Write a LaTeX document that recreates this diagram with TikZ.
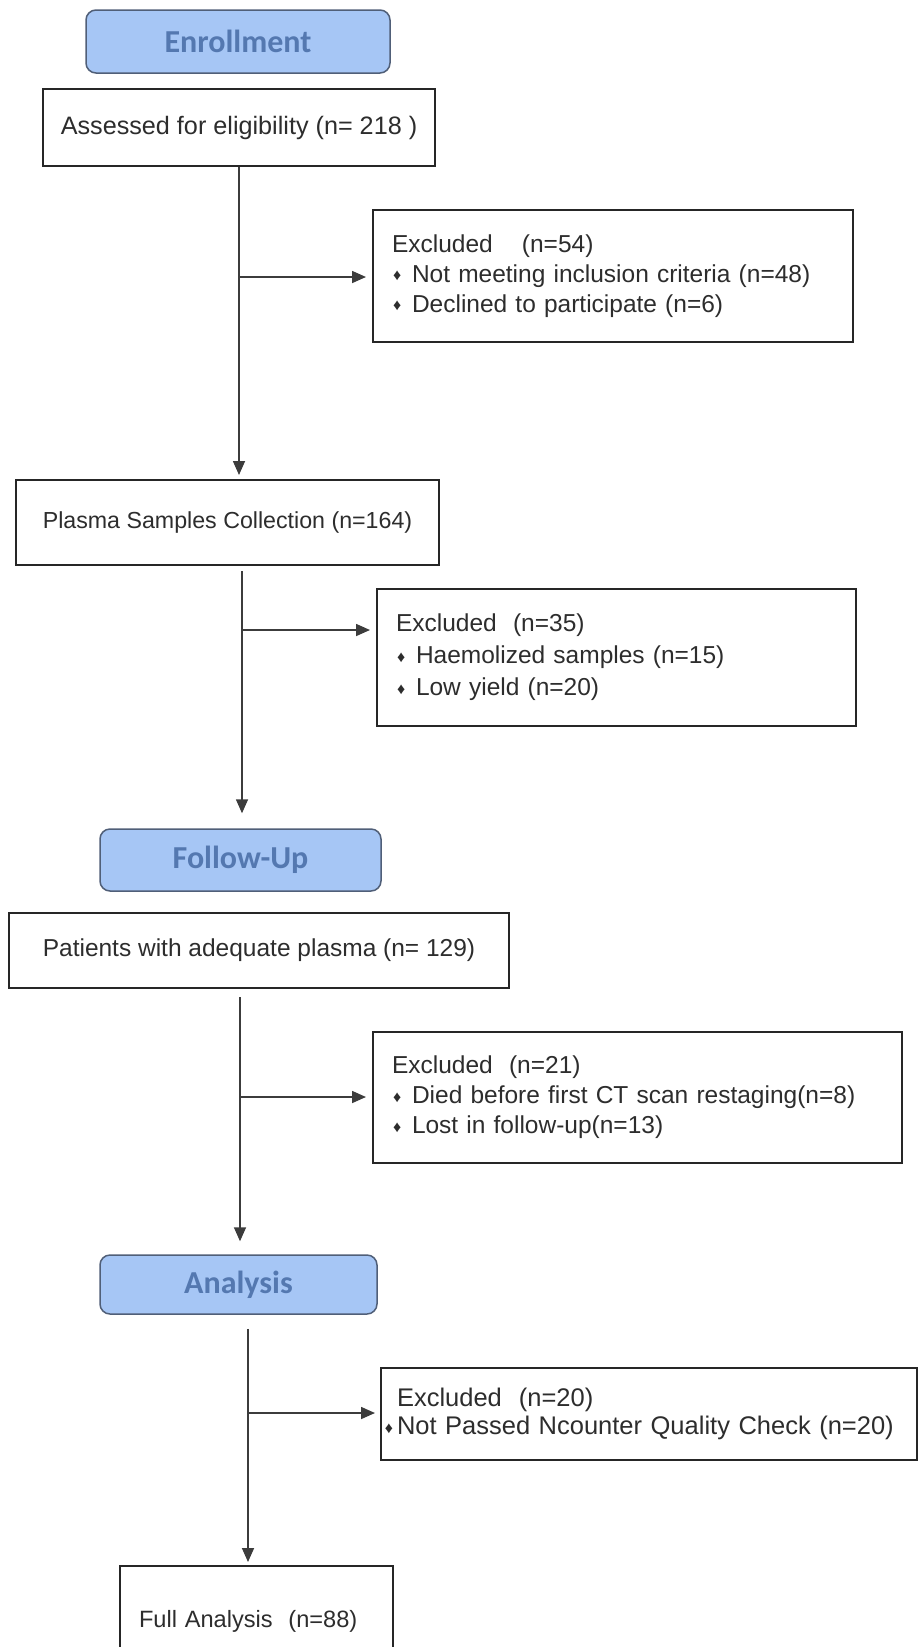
\documentclass[tikz,border=0pt]{standalone}
\usepackage{fontspec}
\setmainfont{Liberation Sans}
\newfontfamily\hdrfont{Carlito}
\usetikzlibrary{arrows.meta}
\definecolor{hdrfill}{RGB}{166,198,245}
\definecolor{hdrtext}{RGB}{84,120,176}
\definecolor{hdrdraw}{RGB}{80,95,120}
\definecolor{txtc}{RGB}{45,45,45}
\definecolor{linc}{RGB}{60,60,60}
\newcommand{\bitem}[1]{\makebox[20pt][l]{\hspace{1pt}\raisebox{1.5pt}{\fontsize{16}{16}\selectfont ♦}}#1}
\newcommand{\bitemb}[1]{\leavevmode\llap{\raisebox{1.5pt}{\fontsize{16}{16}\selectfont ♦}\hspace{4pt}}#1}
\begin{document}
\begin{tikzpicture}[x=1pt,y=-1pt,
  hdr/.style={draw=hdrdraw, line width=1.5pt, fill=hdrfill, rounded corners=10pt,
    font=\hdrfont\bfseries\fontsize{32}{36}\selectfont, text=hdrtext, inner sep=0pt},
  box/.style={draw=black!85, line width=2pt, fill=white, inner sep=0pt,
    font=\fontsize{24.5}{30}\selectfont, text=txtc},
  exbox/.style={box, align=left, inner xsep=19pt},
  conn/.style={draw=linc, line width=1.6pt},
  arr/.style={conn, -{Triangle[length=14pt,width=12pt]}}]
\useasboundingbox[fill=white] (0,0) rectangle (920,1647);
\clip (0,0) rectangle (920,1647);

% headers
\node[hdr, minimum width=304pt, minimum height=63pt] (enr) at (238,41.5) {Enrollment};
\node[hdr, minimum width=281pt, minimum height=62pt] (fol) at (240.5,860) {Follow-Up};
\node[hdr, minimum width=277pt, minimum height=59pt] (ana) at (238.5,1284.5) {Analysis};

% main boxes
\node[box, minimum width=392pt, minimum height=77pt, font=\fontsize{25.2}{30}\selectfont] (assess) at (239,127.5) {Assessed for eligibility (n= 218 )};
\node[box, minimum width=423pt, minimum height=85pt, font=\fontsize{23.2}{30}\selectfont] (plasma) at (227.5,522.5) {Plasma Samples Collection (n=164)};
\node[box, minimum width=500pt, minimum height=75pt] (patients) at (259,950.5) {Patients with adequate plasma (n= 129)};
\node[exbox, anchor=north, text width=235pt, minimum height=110pt, font=\fontsize{23.6}{30}\selectfont] (full) at (256.5,1565) {Full Analysis~ (n=88)};

% exclusion boxes
\node[exbox, text width=442pt, minimum height=132pt] (ex1) at (613,276)
  {Excluded\hspace{21pt} (n=54)\\ \bitem{Not meeting inclusion criteria (n=48)}\\ \bitem{Declined to participate (n=6)}};
\node[exbox, text width=441pt, minimum height=137pt, font=\fontsize{24.5}{32}\selectfont] (ex2) at (616.5,657.5)
  {Excluded~ (n=35)\\ \bitem{Haemolized samples (n=15)}\\ \bitem{Low yield (n=20)}};
\node[exbox, text width=491pt, minimum height=131pt] (ex3) at (637.5,1097.5)
  {Excluded~ (n=21)\\ \bitem{Died before first CT scan restaging(n=8)}\\ \bitem{Lost in follow-up(n=13)}};
\node[exbox, inner xsep=16pt, text width=504pt, minimum height=92pt, font=\fontsize{25.5}{28}\selectfont] (ex4) at (649,1414)
  {Excluded~ (n=20)\\ \bitemb{Not Passed Ncounter Quality Check (n=20)}};

% branch points
\coordinate (b1) at (239,277);
\coordinate (b2) at (242,630);
\coordinate (b3) at (240,1097);
\coordinate (b4) at (248,1413);

% connectors
\draw[arr, shorten >=4pt] (assess.south -| b1) -- (plasma.north -| b1);
\draw[arr, shorten >=6pt] (b1) -- (ex1.west |- b1);
\draw[arr, shorten <=5pt, shorten >=15pt] (plasma.south -| b2) -- (fol.north -| b2);
\draw[arr, shorten >=6pt] (b2) -- (ex2.west |- b2);
\draw[arr, shorten <=8pt, shorten >=13pt] (patients.south -| b3) -- (ana.north -| b3);
\draw[arr, shorten >=6pt] (b3) -- (ex3.west |- b3);
\draw[arr, shorten <=14pt, shorten >=3pt] (ana.south -| b4) -- (full.north -| b4);
\draw[arr, shorten >=5pt] (b4) -- (ex4.west |- b4);
\end{tikzpicture}
\end{document}
